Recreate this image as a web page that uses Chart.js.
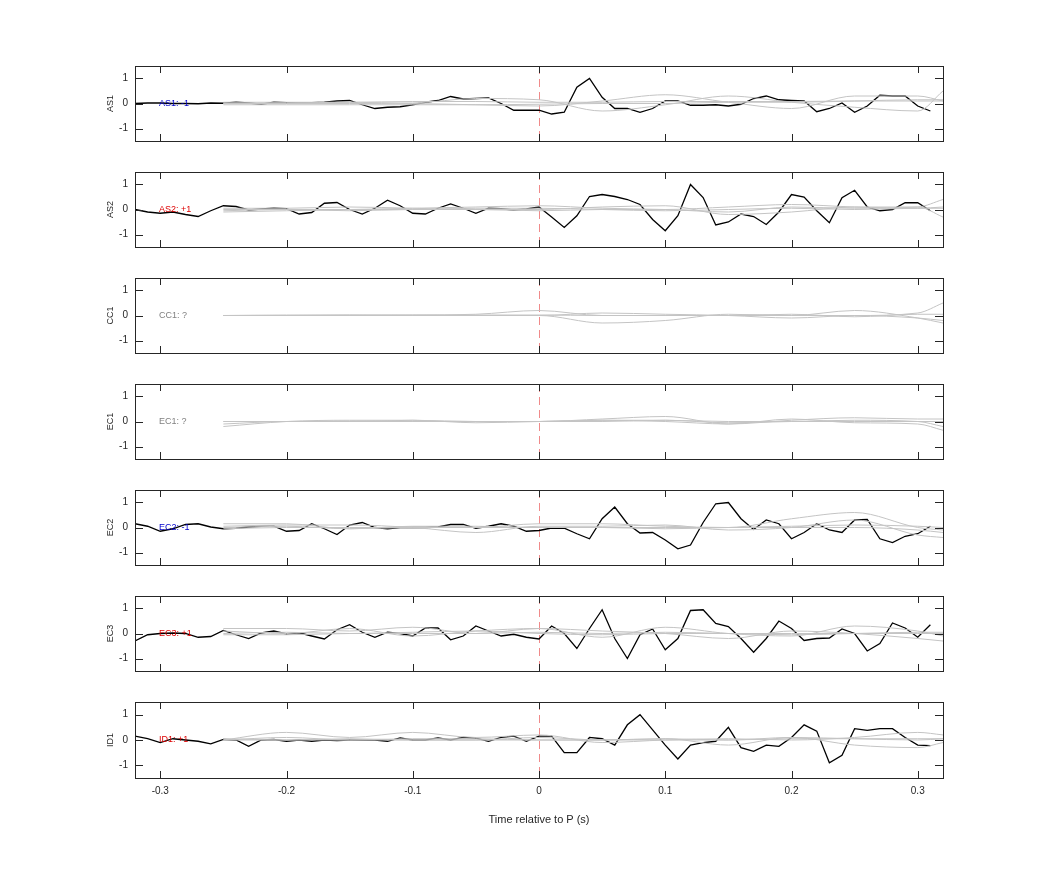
<!DOCTYPE html>
<html><head><meta charset="utf-8">
<script src="https://cdn.jsdelivr.net/npm/chart.js@4/dist/chart.umd.min.js"></script>
<style>body{margin:0;background:#fff;width:1042px;height:875px;position:relative;overflow:hidden}canvas{position:absolute;left:0}</style>
</head><body>
<script>
const panelNames = ["AS1","AS2","CC1","EC1","EC2","EC3","ID1"];
const panelTags = ["AS1: -1","AS2: +1","CC1: ?","EC1: ?","EC2: -1","EC3: +1","ID1: +1"];
const tagColors = ["#0000cc","#dd0000","#808080","#808080","#0000cc","#dd0000","#dd0000"];
const xTicks = [-0.3,-0.2,-0.1,0,0.1,0.2,0.3];
const yTicks = [-1,0,1];
const blackTimes = [-0.32,-0.31,-0.30,-0.29,-0.28,-0.27,-0.26,-0.25,-0.24,-0.23,-0.22,-0.21,-0.20,-0.19,-0.18,-0.17,-0.16,-0.15,-0.14,-0.13,-0.12,-0.11,-0.10,-0.09,-0.08,-0.07,-0.06,-0.05,-0.04,-0.03,-0.02,-0.01,0,0.01,0.02,0.03,0.04,0.05,0.06,0.07,0.08,0.09,0.10,0.11,0.12,0.13,0.14,0.15,0.16,0.17,0.18,0.19,0.20,0.21,0.22,0.23,0.24,0.25,0.26,0.27,0.28,0.29,0.30,0.31];
const blackAS1 = [0,0.02,0.02,0,0,-0.01,0.02,0.01,0.05,0.02,-0.03,0.05,0.03,0.02,0.03,0.05,0.1,0.12,-0.05,-0.2,-0.15,-0.13,-0.05,0.05,0.12,0.28,0.18,0.2,0.22,0,-0.27,-0.27,-0.27,-0.42,-0.35,0.65,1.0,0.25,-0.2,-0.2,-0.35,-0.2,0.1,0.1,-0.07,-0.07,-0.05,-0.1,-0.03,0.2,0.3,0.15,0.12,0.1,-0.33,-0.2,0.02,-0.35,-0.1,0.33,0.3,0.3,-0.1,-0.3];
const blackAS2 = [0,-0.1,-0.15,-0.1,-0.2,-0.28,-0.05,0.15,0.12,-0.02,0.02,0.05,0.03,-0.18,-0.12,0.25,0.28,0,-0.18,0.05,0.37,0.15,-0.15,-0.18,0.05,0.22,0.05,-0.15,0.05,0.03,-0.02,0.02,0.1,-0.3,-0.72,-0.25,0.52,0.6,0.52,0.4,0.2,-0.4,-0.85,-0.25,1.0,0.48,-0.62,-0.5,-0.18,-0.28,-0.6,-0.1,0.6,0.5,-0.05,-0.53,0.47,0.77,0.1,-0.05,0,0.27,0.27,-0.05];
const blackCC1 = [];
const blackEC1 = [];
const blackEC2 = [0.15,0.05,-0.15,-0.05,0.12,0.15,0.02,-0.05,-0.03,0.02,0.05,0.05,-0.15,-0.12,0.15,-0.05,-0.28,0.1,0.2,0,-0.05,0,0,0,0.02,0.12,0.12,-0.03,0.05,0.15,0.05,-0.15,-0.12,-0.02,-0.03,-0.25,-0.45,0.35,0.82,0.15,-0.22,-0.2,-0.5,-0.85,-0.7,0.2,0.95,1.0,0.35,-0.08,0.3,0.15,-0.45,-0.2,0.15,-0.1,-0.2,0.3,0.32,-0.45,-0.6,-0.35,-0.25,0.05];
const blackEC3 = [-0.3,-0.05,0,0.02,0,-0.15,-0.12,0.12,-0.05,-0.2,0.02,0.1,-0.02,0.03,-0.1,-0.22,0.15,0.35,0.05,-0.15,0.05,0,-0.1,0.22,0.22,-0.25,-0.1,0.3,0.1,-0.1,-0.03,-0.15,-0.22,0.3,0,-0.6,0.2,0.95,-0.2,-1.0,-0.05,0.18,-0.65,-0.2,0.92,0.95,0.4,0.28,-0.2,-0.75,-0.2,0.5,0.2,-0.28,-0.2,-0.18,0.18,0,-0.7,-0.4,0.42,0.22,-0.15,0.35];
const blackID1 = [0.15,0.05,-0.1,0.05,0,-0.05,-0.15,0.02,0,-0.25,0,0.02,-0.05,0,-0.05,0,-0.02,0,0,0,-0.05,0.08,0,0,0.08,0,0.1,0.07,-0.05,0.1,0.15,-0.05,0.15,0.15,-0.5,-0.5,0.1,0.05,-0.2,0.6,1.0,0.4,-0.2,-0.75,-0.2,-0.1,-0.05,0.5,-0.3,-0.45,-0.2,-0.25,0.1,0.6,0.35,-0.9,-0.6,0.45,0.38,0.45,0.45,0.1,-0.2,-0.22];
const grayTimes = [-0.25,-0.2,-0.15,-0.1,-0.05,0,0.05,0.1,0.15,0.2,0.25,0.3,0.32];
const grayAS1 = [[0,0,0,0.02,0.2,0.15,-0.3,-0.05,0.3,0.05,-0.15,-0.3,0.5],[0,0.02,0.05,0,-0.05,-0.1,0.1,0.35,0.05,-0.2,0.3,0.3,0.1],[-0.05,-0.05,-0.05,-0.05,-0.05,-0.03,0,0,0.05,0.05,0.1,0.15,0.15],[0.05,0.05,0.05,0.08,0.08,0.05,0.05,0.08,0.08,0.08,0.1,0.1,0.1]];
const grayAS2 = [[-0.1,-0.05,0,0.05,0.1,0.15,0.05,0,-0.1,0.1,0.05,0.1,0.4],[0.05,0.05,0.1,0.05,0,0,0.1,0.15,-0.2,-0.1,0.1,0.1,-0.3],[-0.05,0,0,0,0.05,0.05,0,-0.05,0,0.05,0,0.05,0.05],[0,0,-0.05,0,0,-0.05,0,0,0.1,0.2,0.1,0.05,0.1]];
const grayCC1 = [[0,0.02,0.02,0.02,0.05,0.2,0,0,0,0,0,0.1,0.5],[0,0,0,0,0,0,-0.3,-0.2,0.05,0,0.2,-0.1,-0.3],[0,0,0.02,0,0,0,0.1,0.05,0,-0.1,0,-0.1,-0.2],[0,0,0,0.02,0.02,0.02,0,0,0,0.05,-0.05,0.05,0.05]];
const grayEC1 = [[-0.2,0,0.05,0.05,0,0,0.1,0.2,-0.1,0.05,0.15,0.1,0.1],[-0.1,0,0,0.05,-0.05,0,0.05,0,-0.1,0.1,-0.05,-0.1,-0.35],[0,0,0.02,0,0,0,0.05,0.05,-0.05,0,0.05,0,-0.2],[0,0,0,0,0,0,0,0.05,0,0,0,0,0]];
const grayEC2 = [[0.15,0.15,-0.05,0,0,0.15,0.15,0.05,0,0.35,0.6,0,-0.1],[0.05,0.1,0.1,0,-0.2,0.05,0.05,0.1,-0.1,0,0.3,-0.3,-0.4],[-0.05,0,0,0,0,0,0,-0.05,0,0.05,0.1,0.05,0],[0,0.05,-0.05,0.05,0.05,0,0,0,0,0,0,-0.1,-0.2]];
const grayEC3 = [[0.2,0.2,0.1,0.25,0,0.2,-0.15,0.25,0,-0.1,0.3,0.1,-0.1],[0.1,0,0.2,-0.1,0.1,0.2,0.1,0,-0.2,0.1,0,-0.2,-0.3],[0,0.05,0,0.05,0.1,0,-0.05,0,0,0,0,0,0],[-0.05,-0.05,0,0,0,0.05,0,0.05,0,-0.05,0,0.05,0.05]];
const grayID1 = [[0,0.3,0.1,0.3,0.1,0.2,-0.1,0,0.05,0,0.1,0.3,0.2],[0,0.1,0,0,0,0.1,0,0.05,-0.2,0.1,-0.2,-0.3,-0.1],[0.05,0,0.05,0,0,0,0,0.05,0,0.1,0.05,0,0.05],[0,0,0,0.05,0.05,0,0,0,0,0.05,0.05,0.05,0.05]];
const blackSets = [blackAS1,blackAS2,blackCC1,blackEC1,blackEC2,blackEC3,blackID1];
const graySets = [grayAS1,grayAS2,grayCC1,grayEC1,grayEC2,grayEC3,grayID1];
const panelTops = [66,172,278,384,490,596,702];

const FONT = "'Liberation Sans', Arial, sans-serif";
const deco = {
  id:'deco',
  beforeDatasetsDraw(c){
    const {ctx,chartArea:a,scales:{x,y}} = c;
    ctx.save();
    ctx.strokeStyle='#f08a8a';ctx.lineWidth=1;ctx.setLineDash([8,5]);
    const x0=Math.round(x.getPixelForValue(0))+0.5;
    ctx.beginPath();ctx.moveTo(x0,a.top);ctx.lineTo(x0,a.bottom);ctx.stroke();
    ctx.restore();
  },
  afterDraw(c){
    const {ctx,chartArea:a,scales:{x,y}} = c;
    const i=c.options.plugins.deco.idx;
    ctx.save();
    ctx.strokeStyle='#262626';ctx.lineWidth=1;
    ctx.strokeRect(Math.round(a.left)+0.5,Math.round(a.top)+0.5,Math.round(a.right-a.left),Math.round(a.bottom-a.top));
    ctx.beginPath();
    xTicks.forEach(t=>{const p=Math.round(x.getPixelForValue(t))+0.5;ctx.moveTo(p,a.top);ctx.lineTo(p,a.top+7);ctx.moveTo(p,a.bottom);ctx.lineTo(p,a.bottom-7);});
    yTicks.forEach(t=>{const p=Math.round(y.getPixelForValue(t))+0.5;ctx.moveTo(a.left,p);ctx.lineTo(a.left+8,p);ctx.moveTo(a.right,p);ctx.lineTo(a.right-8,p);});
    ctx.stroke();
    ctx.fillStyle=tagColors[i];ctx.font='9px '+FONT;ctx.textBaseline='middle';
    ctx.fillText(panelTags[i],x.getPixelForValue(-0.301),y.getPixelForValue(0));
    ctx.restore();
  }
};

panelNames.forEach((name,i)=>{
  const last = i===panelNames.length-1;
  const cv=document.createElement('canvas');
  const h = last?142:101;
  cv.width=1042;cv.height=h;cv.style.top=(panelTops[i]-13)+'px';cv.style.width='1042px';cv.style.height=h+'px';
  document.body.appendChild(cv);
  const ds=[];
  graySets[i].forEach(g=>ds.push({data:grayTimes.map((t,k)=>({x:t,y:g[k]})),borderColor:'#c4c4c4',borderWidth:1,pointRadius:0,tension:0.4,cubicInterpolationMode:'monotone'}));
  ds.push({data:blackSets[i].map((v,k)=>({x:blackTimes[k],y:v})),borderColor:'#000',borderWidth:1.3,pointRadius:0,tension:0});
  new Chart(cv,{type:'line',data:{datasets:ds},plugins:[deco],options:{
    responsive:false,animation:false,devicePixelRatio:1,
    layout:{padding:{left:105,right:99,top:7,bottom:last?0:7}},
    plugins:{legend:{display:false},tooltip:{enabled:false},deco:{idx:i}},
    scales:{
      x:{type:'linear',min:-0.32,max:0.32,display:last,
        afterBuildTicks(s){s.ticks=xTicks.map(v=>({value:v}));},
        afterFit(s){s.height=last?53:0;},
        grid:{display:false,drawTicks:false},border:{display:false},
        ticks:{padding:7,color:'#262626',font:{size:10,family:FONT},callback:v=>v===0?'0':String(v)},
        title:{display:true,text:'Time relative to P (s)',color:'#262626',font:{size:11,family:FONT},padding:{top:4}}},
      y:{min:-1.5,max:1.5,
        afterBuildTicks(s){s.ticks=yTicks.map(v=>({value:v}));},
        afterFit(s){s.width=30;},
        grid:{display:false,drawTicks:false},border:{display:false},
        ticks:{padding:7,color:'#262626',font:{size:10,family:FONT}},
        title:{display:true,text:name,color:'#262626',font:{size:9,family:FONT},padding:0}}
    }}});
});
</script>
</body></html>
